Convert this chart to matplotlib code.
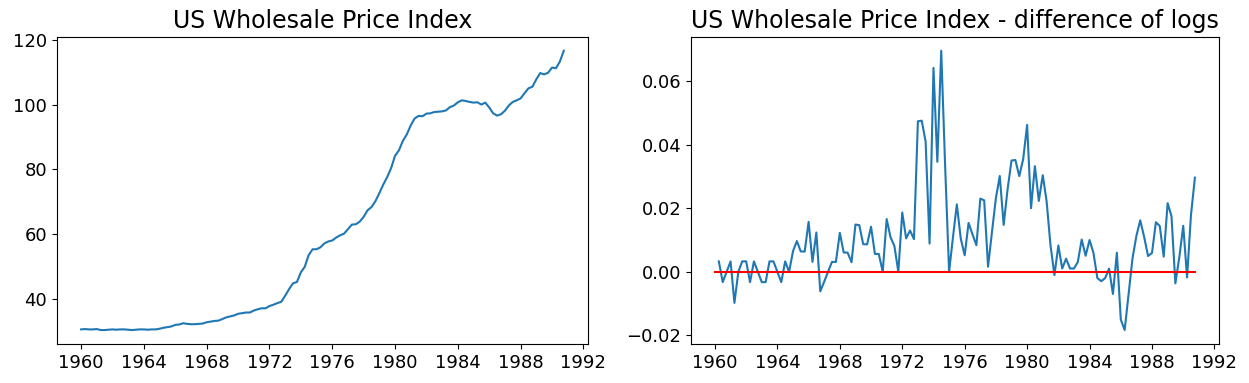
import numpy as np
import pandas as pd
import matplotlib
matplotlib.use('Agg')
import matplotlib.pyplot as plt
import matplotlib.dates as mdates

# quarterly US wholesale price index, 1960q1 - 1990q4
wpi_1960s = [30.7, 30.8, 30.7, 30.7, 30.8, 30.5, 30.5, 30.6, 30.7, 30.6,
             30.7, 30.7, 30.6, 30.5, 30.6, 30.7, 30.7, 30.6, 30.7, 30.7,
             30.9, 31.2, 31.4, 31.6, 32.1, 32.2, 32.6, 32.4, 32.3, 32.3,
             32.4, 32.5, 32.9, 33.1, 33.3, 33.4, 33.9, 34.4, 34.7, 35.0]
wpi_1970s = [35.5, 35.7, 35.9, 35.9, 36.5, 36.9, 37.2, 37.2, 37.9, 38.3,
             38.8, 39.2, 41.1, 43.1, 44.9, 45.3, 48.3, 50.0, 53.6, 55.4,
             55.4, 56.0, 57.2, 57.8, 58.1, 59.0, 59.7, 60.2, 61.6, 63.0,
             63.1, 63.9, 65.4, 67.4, 68.4, 70.2, 72.7, 75.3, 77.6, 80.4]
wpi_1980s = [84.2, 85.9, 88.8, 90.8, 93.6, 95.7, 96.5, 96.4, 97.2, 97.3,
             97.7, 97.8, 97.9, 98.2, 99.2, 99.7, 100.7, 101.3, 101.1, 100.8,
             100.6, 100.7, 100.0, 100.6, 99.1, 97.3, 96.6, 97.0, 98.1, 99.7,
             100.8, 101.3, 101.9, 103.5, 105.0, 105.5, 107.8, 109.7, 109.3, 109.8]
wpi_1990 = [111.4, 111.2, 113.2, 116.6]

wpi = np.array(wpi_1960s + wpi_1970s + wpi_1980s + wpi_1990)
dates = pd.date_range('1960-01-01', periods=len(wpi), freq='QS')

ln_diff = np.diff(np.log(wpi))

plt.rcParams['font.family'] = 'DejaVu Sans'

fig = plt.figure(figsize=(12.49, 3.83), dpi=100)
ax1 = fig.add_axes([0.0456, 0.1018, 0.4251, 0.8023])
ax2 = fig.add_axes([0.5532, 0.1018, 0.4227, 0.8023])

ax1.plot(dates, wpi, color='#1f77b4')
ax1.set_title('US Wholesale Price Index', fontsize=17)

ax2.plot(dates[1:], ln_diff, color='#1f77b4')
ax2.plot(dates, np.zeros(len(dates)), color='red')
ax2.set_title('US Wholesale Price Index - difference of logs', fontsize=17)

for ax in (ax1, ax2):
    ax.xaxis.set_major_locator(mdates.YearLocator(4))
    ax.xaxis.set_major_formatter(mdates.DateFormatter('%Y'))
    ax.tick_params(labelsize=13)

ax1.set_yticks([40, 60, 80, 100, 120])

fig.savefig('out.png', dpi=100)
